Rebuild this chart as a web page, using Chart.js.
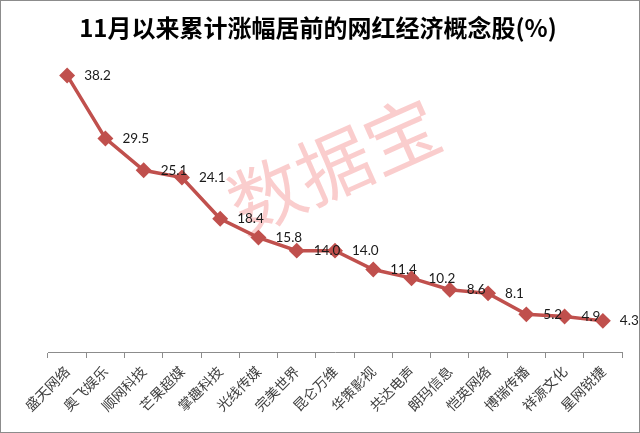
<!DOCTYPE html>
<html>
<head>
<meta charset="utf-8">
<script src="https://cdn.jsdelivr.net/npm/chart.js@4"></script>
<style>
  html, body { margin: 0; padding: 0; background: #fff; }
  #wrap { width: 640px; height: 433px; position: relative; }
</style>
</head>
<body>
<div id="wrap"><canvas id="netStockChart" width="640" height="433"></canvas></div>
<script>
const chartTitle = "11月以来累计涨幅居前的网红经济概念股(%)";
const stockNames = ["盛天网络", "奥飞娱乐", "顺网科技", "芒果超媒", "掌趣科技", "光线传媒", "完美世界",
  "昆仑万维", "华策影视", "共达电声", "朗玛信息", "恺英网络", "博瑞传播", "祥源文化", "星网锐捷"];
const gainPct = [38.2, 29.5, 25.1, 24.1, 18.4, 15.8, 14.0, 14.0, 11.4, 10.2, 8.6, 8.1, 5.2, 4.9, 4.3];
const watermarkText = "数据宝";

// value labels to the right of each marker
const valueLabels = {
  id: "valueLabels",
  afterDatasetsDraw(chart) {
    const ctx = chart.ctx;
    const meta = chart.getDatasetMeta(0);
    ctx.save();
    ctx.font = "13.5px Lato";
    ctx.fillStyle = "#1a1a1a";
    ctx.textBaseline = "middle";
    ctx.textAlign = "left";
    meta.data.forEach((pt, i) => {
      ctx.fillText(gainPct[i].toFixed(1), pt.x + 17, pt.y);
    });
    ctx.restore();
  }
};

// title, pink watermark, outer frame
const decor = {
  id: "decor",
  beforeDatasetsDraw(chart) {
    const ctx = chart.ctx;
    ctx.save();
    ctx.translate(334, 165);
    ctx.rotate(-24 * Math.PI / 180);
    ctx.font = "74px 'Noto Sans CJK SC'";
    ctx.fillStyle = "rgba(240, 90, 90, 0.3)";
    ctx.textAlign = "center";
    ctx.textBaseline = "middle";
    ctx.fillText(watermarkText, 0, 0);
    ctx.restore();
  },
  afterDraw(chart) {
    const ctx = chart.ctx;
    ctx.save();
    ctx.font = "bold 24px 'Noto Sans CJK SC'";
    ctx.fillStyle = "#000";
    ctx.textAlign = "center";
    ctx.textBaseline = "middle";
    ctx.fillText(chartTitle, 318, 28);
    ctx.strokeStyle = "#8c8c8c";
    ctx.lineWidth = 1;
    ctx.strokeRect(0.5, 0.5, 639, 432);
    ctx.restore();
  }
};

new Chart(document.getElementById("netStockChart"), {
  type: "line",
  data: {
    labels: stockNames,
    datasets: [{
      data: gainPct,
      borderColor: "#C0504D",
      backgroundColor: "#C0504D",
      borderWidth: 3.5,
      pointStyle: "rectRot",
      pointRadius: 5.5,
      pointHoverRadius: 5.5,
      tension: 0
    }]
  },
  options: {
    responsive: false,
    animation: false,
    layout: { padding: { left: 48, right: 18, top: 62.4, bottom: 0 } },
    plugins: {
      legend: { display: false },
      tooltip: { enabled: false },
      title: { display: false }
    },
    scales: {
      x: {
        offset: true,
        grid: { display: true, drawOnChartArea: false, offset: true, tickLength: 6, color: "#8c8c8c" },
        border: { display: true, color: "#8c8c8c", width: 1 },
        ticks: {
          autoSkip: false,
          minRotation: 45,
          maxRotation: 45,
          color: "#404040",
          padding: 5,
          font: { family: "'Noto Sans CJK SC'", size: 14 }
        },
        afterFit(scale) { scale.height = 81; }
      },
      y: { display: false, min: 0, max: 40 }
    }
  },
  plugins: [valueLabels, decor]
});
</script>
</body>
</html>
